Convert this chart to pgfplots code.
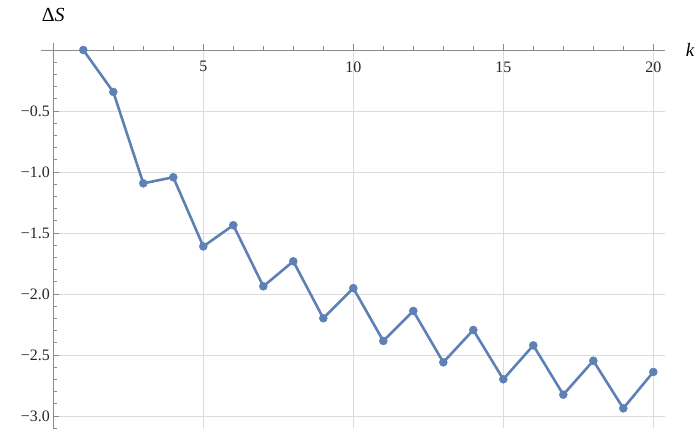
\documentclass[border=0pt]{standalone}
\usepackage{fontspec}
\setmainfont{Liberation Serif}
\usepackage{pgfplots}
\pgfplotsset{compat=1.18}
\definecolor{mblue}{HTML}{5E81B5}
\definecolor{axgray}{HTML}{8A8A8A}
\definecolor{gridgray}{HTML}{DCDCDC}
\begin{document}
\begin{tikzpicture}[x=1bp,y=1bp]
\useasboundingbox (0,0) rectangle (695,432);
\begin{axis}[
  at={(53.3bp,3.8bp)}, anchor=south west,
  scale only axis, width=612bp, height=378.2bp,
  xmin=0, xmax=20.4, ymin=-3.10, ymax=0,
  axis lines=middle,
  axis line style={-, color=axgray, line width=0.9bp},
  x axis line style={shorten <=-12bp},
  y axis line style={shorten >=-7bp},
  xtick={5,10,15,20},
  xticklabels={5,10,15,20},
  ytick={-3,-2.5,-2,-1.5,-1,-0.5},
  yticklabels={−3.0,−2.5,−2.0,−1.5,−1.0,−0.5},
  minor xtick={1,2,3,4,6,7,8,9,11,12,13,14,16,17,18,19},
  minor ytick={-3.1,-2.9,-2.8,-2.7,-2.6,-2.4,-2.3,-2.2,-2.1,-1.9,-1.8,-1.7,-1.6,-1.4,-1.3,-1.2,-1.1,-0.9,-0.8,-0.7,-0.6,-0.4,-0.3,-0.2,-0.1},
  tick align=inside,
  major tick length=6bp, minor tick length=3.5bp,
  tick style={color=axgray, line width=0.8bp},
  minor tick style={color=axgray, line width=0.8bp},
  grid=major,
  major grid style={color=gridgray, line width=0.9bp},
  ticklabel style={font=\rmfamily\fontsize{16}{16}\selectfont, text=black!85},
  xticklabel style={yshift=-8bp},
  xlabel={\textit{k}},
  xlabel style={at={(axis description cs:1,1)}, anchor=west, xshift=17bp, font=\rmfamily\fontsize{19}{19}\selectfont},
  clip=false,
]
\addplot[mblue, line width=2.6bp, mark=*, mark size=4bp, mark options={fill=mblue, draw=mblue, solid, line width=0.5bp}] coordinates {
(1,0) (2,-0.344) (3,-1.093) (4,-1.043) (5,-1.610) (6,-1.436) (7,-1.937)
(8,-1.732) (9,-2.199) (10,-1.952) (11,-2.385) (12,-2.139) (13,-2.560)
(14,-2.295) (15,-2.699) (16,-2.421) (17,-2.825) (18,-2.547) (19,-2.937) (20,-2.639)
};
\node[anchor=center, font=\rmfamily\fontsize{20}{20}\selectfont, xshift=0bp, yshift=35bp] at (axis cs:0,0) {Δ\textit{S}};
\end{axis}
\end{tikzpicture}
\end{document}
